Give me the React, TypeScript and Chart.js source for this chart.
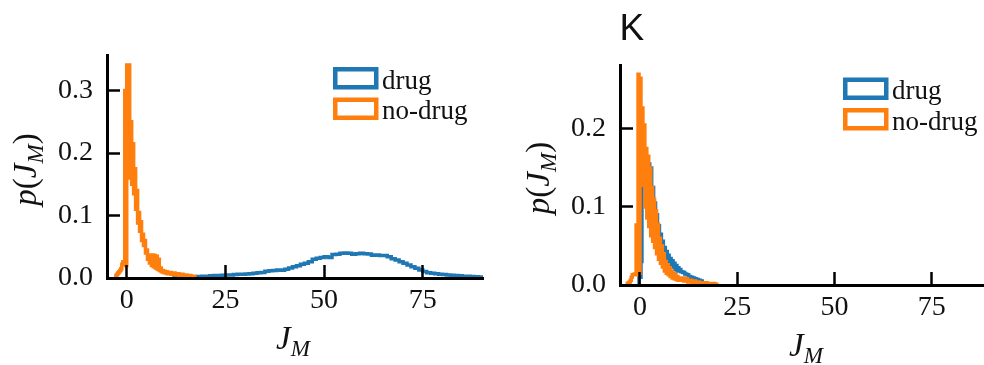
import React, { useEffect, useRef } from "react";
import { Chart, registerables } from "chart.js";

Chart.register(...registerables);

const BLUE = "#1f77b4";
const ORANGE = "#ff7f0e";
const SERIF = '"Liberation Serif", "Times New Roman", serif';

const legendLabels = ["drug", "no-drug"];

// ---------------- Left panel ----------------
const leftXTicks = [0, 25, 50, 75];
const leftYTicks = [0, 0.1, 0.2, 0.3];

// drug: bins of width 1 starting at J_M = 12
const leftDrugStart = 12;
const leftDrugBin = 1;
const leftDrug = [
  0.0005, 0.0008, 0.001, 0.0012, 0.0015, 0.002, 0.0025, 0.003, 0.003, 0.0035,
  0.004, 0.004, 0.0045, 0.005, 0.005, 0.0055, 0.006, 0.006, 0.0065, 0.007,
  0.0075, 0.0085, 0.009, 0.011, 0.0115, 0.012, 0.013, 0.0125, 0.014, 0.016,
  0.018, 0.0195, 0.022, 0.0235, 0.026, 0.03, 0.0315, 0.033, 0.034, 0.033,
  0.0375, 0.038, 0.0395, 0.04, 0.0395, 0.038, 0.039, 0.0395, 0.039, 0.0385,
  0.0365, 0.037, 0.036, 0.036, 0.034, 0.031, 0.029, 0.026, 0.0235, 0.021,
  0.018, 0.0155, 0.013, 0.0105, 0.0085, 0.0075, 0.007, 0.006, 0.0055, 0.005,
  0.0045, 0.004, 0.0035, 0.003, 0.0028, 0.0025, 0.002, 0.0015,
];

// no-drug: fine bins (0.25) from -2.75, then 0.5 bins for the tail
const leftNoDrugStart = -2.75;
const leftNoDrugFineBin = 0.25;
const leftNoDrugFine = [
  0.004, 0.006, 0.008, 0.01, 0.012, 0.015, 0.022, 0.026, 0.026,
  0.3, 0.02, 0.341,
  0.17, 0.341, 0.16, 0.25,
  0.15, 0.215, 0.135, 0.175,
  0.11, 0.14, 0.088, 0.105,
  0.075, 0.09, 0.06, 0.07,
  0.052, 0.06, 0.04, 0.045,
  0.03, 0.037, 0.024, 0.036,
  0.02, 0.037, 0.018, 0.036,
  0.016, 0.035, 0.014, 0.03,
  0.012, 0.016, 0.01, 0.012,
  0.009, 0.011, 0.008, 0.01,
];
const leftNoDrugTailBin = 0.5;
const leftNoDrugTail = [
  0.007, 0.009, 0.006, 0.008, 0.005, 0.007, 0.004, 0.006, 0.003, 0.005,
  0.003, 0.004, 0.002, 0.003,
];

// ---------------- Right panel (K) ----------------
const rightXTicks = [0, 25, 50, 75];
const rightYTicks = [0, 0.1, 0.2];

const rightDrugStart = -0.25;
const rightDrugFineBin = 0.25;
const rightDrugFine = [
  0.01, 0.01, 0.03, 0.184, 0.184, 0.13, 0.17, 0.11, 0.16, 0.095,
  0.155, 0.085, 0.15, 0.09, 0.125, 0.08, 0.105, 0.07, 0.09, 0.062,
  0.076, 0.055, 0.065, 0.048, 0.056, 0.042, 0.048, 0.037, 0.043, 0.033,
  0.038, 0.029, 0.034, 0.026, 0.031, 0.023, 0.028, 0.02, 0.025, 0.018,
  0.022,
];
const rightDrugTailBin = 0.5;
const rightDrugTail = [
  0.02, 0.017, 0.016, 0.014, 0.013, 0.011, 0.01, 0.009, 0.008, 0.007,
  0.006, 0.005, 0.003, 0.002,
];

const rightNoDrugStart = -3.25;
const rightNoDrugFineBin = 0.25;
const rightNoDrugFine = [
  0.002, 0.003, 0.004, 0.006, 0.01, 0.013, 0.013, 0.014, 0.013,
  0.077, 0.077, 0.27, 0.015, 0.265,
  0.128, 0.227, 0.128, 0.205, 0.1, 0.175, 0.086, 0.165,
  0.075, 0.15, 0.063, 0.125, 0.056, 0.11, 0.048, 0.095,
  0.04, 0.078, 0.033, 0.06, 0.028, 0.05, 0.023, 0.04,
  0.018, 0.03, 0.015, 0.026, 0.013, 0.022, 0.011, 0.018,
  0.009, 0.015, 0.008, 0.013, 0.007, 0.011, 0.006, 0.009,
];
const rightNoDrugTailBin = 0.5;
const rightNoDrugTail = [
  0.006, 0.009, 0.005, 0.008, 0.004, 0.006, 0.003, 0.005, 0.002, 0.004,
  0.002, 0.003, 0.001, 0.003, 0.001, 0.002, 0.001, 0.002, 0.001,
];

type Pt = { x: number; y: number };
// Step-histogram outline: consecutive groups of equal-width bins.
function histPoints(start: number, groups: [number, number[]][]): Pt[] {
  const pts: Pt[] = [{ x: start, y: 0 }];
  let x = start;
  groups.forEach(([w, vals]) => {
    vals.forEach((v) => {
      pts.push({ x, y: v });
      x += w;
    });
  });
  pts.push({ x, y: 0 });
  return pts;
}

type Seg = { t: string; italic?: boolean; sub?: boolean };
function drawMath(ctx: CanvasRenderingContext2D, segs: Seg[], x: number, y: number, size: number) {
  const subSize = size * 0.7;
  const fontOf = (s: Seg) => `${s.italic ? "italic " : ""}${s.sub ? subSize : size}px ${SERIF}`;
  let total = 0;
  const widths = segs.map((s) => {
    ctx.font = fontOf(s);
    const w = ctx.measureText(s.t).width;
    total += w;
    return w;
  });
  let cx = x - total / 2;
  ctx.textAlign = "left";
  ctx.textBaseline = "alphabetic";
  segs.forEach((s, i) => {
    ctx.font = fontOf(s);
    ctx.fillText(s.t, cx, y + (s.sub ? size * 0.2 : 0));
    cx += widths[i];
  });
}

type PanelCfg = {
  canvasLeft: number;
  canvasWidth: number;
  padTop: number;
  padRight: number;
  yWidth: number;
  xHeight: number;
  xMin: number;
  xMax: number;
  yMax: number;
  xTicks: number[];
  yTicks: number[];
  drug: Pt[];
  noDrug: Pt[];
  legendX: number;
  legendY: number;
  letter?: { text: string; x: number; y: number };
};

function makeDecor(cfg: PanelCfg) {
  return {
    id: "decor",
    afterDraw(chart: any) {
      const ctx: CanvasRenderingContext2D = chart.ctx;
      const a = chart.chartArea;
      ctx.save();
      ctx.fillStyle = "#111";
      // x title
      drawMath(ctx, [{ t: "J", italic: true }, { t: "M", italic: true, sub: true }], (a.left + a.right) / 2 - 2, a.bottom + 71, 33);
      // y title
      ctx.save();
      ctx.translate(a.left - 71, (a.top + a.bottom) / 2 + 3);
      ctx.rotate(-Math.PI / 2);
      drawMath(
        ctx,
        [
          { t: "p", italic: true },
          { t: "(" },
          { t: "J", italic: true },
          { t: "M", italic: true, sub: true },
          { t: ")" },
        ],
        0,
        0,
        33
      );
      ctx.restore();
      // legend
      const colors = [BLUE, ORANGE];
      legendLabels.forEach((lab, i) => {
        const bx = cfg.legendX;
        const by = cfg.legendY + i * 30.5;
        ctx.lineWidth = 4.5;
        ctx.strokeStyle = colors[i];
        ctx.strokeRect(bx + 2.25, by + 2.25, 41, 18);
        ctx.fillStyle = "#111";
        ctx.font = `27px ${SERIF}`;
        ctx.textAlign = "left";
        ctx.textBaseline = "alphabetic";
        ctx.fillText(lab, bx + 49, by + 21.5);
      });
      if (cfg.letter) {
        ctx.fillStyle = "#111";
        ctx.font = '37px "Liberation Sans", Arial, sans-serif';
        ctx.textAlign = "left";
        ctx.textBaseline = "alphabetic";
        ctx.fillText(cfg.letter.text, cfg.letter.x, cfg.letter.y);
      }
      ctx.restore();
    },
  };
}

function Panel({ cfg }: { cfg: PanelCfg }) {
  const ref = useRef<HTMLCanvasElement | null>(null);
  useEffect(() => {
    if (!ref.current) return;
    const tickFont = { family: SERIF, size: 28 };
    const chart = new Chart(ref.current, {
      type: "line",
      data: {
        datasets: [
          {
            label: legendLabels[0],
            data: cfg.drug,
            borderColor: BLUE,
            backgroundColor: BLUE,
            borderWidth: 3.5,
            pointRadius: 0,
            fill: false,
            stepped: true,
            tension: 0,
            order: 1,
          },
          {
            label: legendLabels[1],
            data: cfg.noDrug,
            borderColor: ORANGE,
            backgroundColor: ORANGE,
            borderWidth: 3.5,
            pointRadius: 0,
            fill: false,
            stepped: true,
            tension: 0,
            order: 0,
          },
        ],
      },
      options: {
        responsive: false,
        animation: false,
        devicePixelRatio: 1,
        layout: { padding: { top: cfg.padTop, right: cfg.padRight, left: 0, bottom: 0 } },
        plugins: {
          legend: { display: false },
          tooltip: { enabled: false },
          title: { display: false },
        },
        scales: {
          x: {
            type: "linear",
            min: cfg.xMin,
            max: cfg.xMax,
            afterBuildTicks: (s: any) => {
              s.ticks = cfg.xTicks.map((v) => ({ value: v }));
            },
            afterFit: (s: any) => {
              s.height = cfg.xHeight;
            },
            grid: {
              display: true,
              drawOnChartArea: false,
              drawTicks: true,
              tickLength: -13,
              tickWidth: 2.5,
              tickColor: "#000",
              z: 1,
            },
            border: { display: true, color: "#000", width: 3, z: 1 },
            ticks: {
              color: "#111",
              font: tickFont,
              padding: 19,
              maxRotation: 0,
              autoSkip: false,
              callback: (v: any) => String(v),
            },
          },
          y: {
            type: "linear",
            min: 0,
            max: cfg.yMax,
            afterBuildTicks: (s: any) => {
              s.ticks = cfg.yTicks.map((v) => ({ value: v }));
            },
            afterFit: (s: any) => {
              s.width = cfg.yWidth;
            },
            grid: {
              display: true,
              drawOnChartArea: false,
              drawTicks: true,
              tickLength: -13,
              tickWidth: 2.5,
              tickColor: "#000",
              z: 1,
            },
            border: { display: true, color: "#000", width: 3, z: 1 },
            ticks: {
              color: "#111",
              font: tickFont,
              padding: 27,
              autoSkip: false,
              callback: (v: any) => Number(v).toFixed(1),
            },
          },
        },
      } as any,
      plugins: [makeDecor(cfg)],
    });
    return () => chart.destroy();
  }, [cfg]);
  return (
    <canvas
      ref={ref}
      width={cfg.canvasWidth}
      height={365}
      style={{ position: "absolute", left: cfg.canvasLeft, top: 0, width: cfg.canvasWidth, height: 365 }}
    />
  );
}

const leftCfg: PanelCfg = {
  canvasLeft: 0,
  canvasWidth: 492,
  padTop: 55,
  padRight: 9,
  yWidth: 107,
  xHeight: 87,
  xMin: -5,
  xMax: 90.25,
  yMax: 0.3568,
  xTicks: leftXTicks,
  yTicks: leftYTicks,
  drug: histPoints(leftDrugStart, [[leftDrugBin, leftDrug]]),
  noDrug: histPoints(leftNoDrugStart, [
    [leftNoDrugFineBin, leftNoDrugFine],
    [leftNoDrugTailBin, leftNoDrugTail],
  ]),
  legendX: 333,
  legendY: 67,
};

const rightCfg: PanelCfg = {
  canvasLeft: 492,
  canvasWidth: 512,
  padTop: 65,
  padRight: 8,
  yWidth: 128,
  xHeight: 80,
  xMin: -5.14,
  xMax: 91.5,
  yMax: 0.282,
  xTicks: rightXTicks,
  yTicks: rightYTicks,
  drug: histPoints(rightDrugStart, [
    [rightDrugFineBin, rightDrugFine],
    [rightDrugTailBin, rightDrugTail],
  ]),
  noDrug: histPoints(rightNoDrugStart, [
    [rightNoDrugFineBin, rightNoDrugFine],
    [rightNoDrugTailBin, rightNoDrugTail],
  ]),
  legendX: 351,
  legendY: 77.5,
  letter: { text: "K", x: 127.5, y: 40 },
};

export default function App() {
  return (
    <div
      style={{
        position: "fixed",
        left: 0,
        top: 0,
        width: 984,
        height: 365,
        overflow: "hidden",
        background: "#fff",
      }}
    >
      <Panel cfg={leftCfg} />
      <Panel cfg={rightCfg} />
    </div>
  );
}
